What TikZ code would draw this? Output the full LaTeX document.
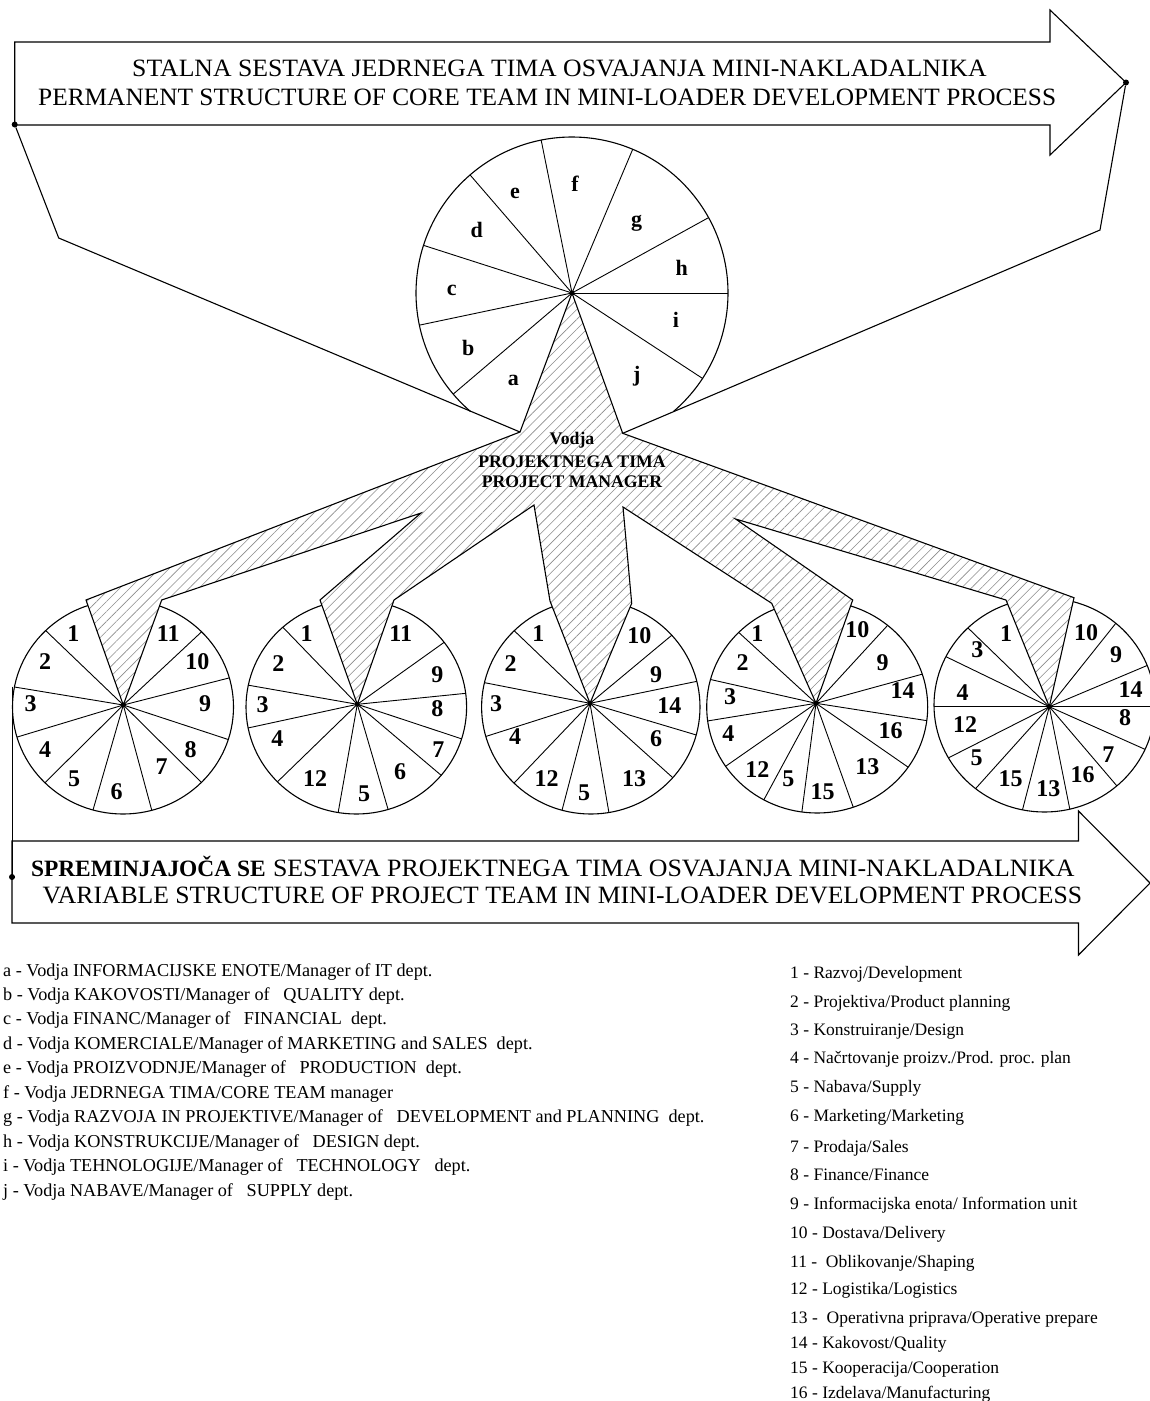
\documentclass[tikz,border=0pt]{standalone}
\usepackage{fontspec}
\usepackage{graphicx}
\setmainfont{Liberation Serif}
\usetikzlibrary{calc,patterns.meta}
\begin{document}
\begin{tikzpicture}[x=1pt,y=-1pt,
  outline/.style={line width=1.1pt, line join=miter},
  spoke/.style={line width=0.9pt},
  hub/.style={circle, fill=black, inner sep=0pt, minimum size=5pt},
  enddot/.style={circle, fill=black, inner sep=0pt, minimum size=6pt},
  seglabel/.style={font=\fontsize{24}{24}\selectfont\bfseries, inner sep=0pt},
  corelabel/.style={font=\fontsize{22}{22}\selectfont\bfseries, inner sep=0pt},
  pmtext/.style={font=\fontsize{17.7}{18}\selectfont\bfseries, inner sep=0pt},
  legend/.style={font=\fontsize{17.5}{18}\selectfont, anchor=base west, inner sep=0pt},
  legendL/.style={legend, font=\fontsize{18.2}{19}\selectfont},
  hatch/.style={pattern={Lines[angle=45,distance=7pt,line width=0.6pt]}, pattern color=black!45},
]
\useasboundingbox (0,0) rectangle (1150,1401);

% ---------- top arrow: permanent core team ----------
\draw[outline] (14.7,42) -- (1050,42) -- (1050,10) -- (1126,82.5) -- (1050,155) -- (1050,125) -- (14.7,125) -- cycle;
\node[anchor=base west, inner sep=0pt] (toptitle1) at (132,76.5)
  {\resizebox{854.5pt}{16.5pt}{\fontsize{22}{22}\selectfont STALNA SESTAVA JEDRNEGA TIMA OSVAJANJA MINI-NAKLADALNIKA}};
\node[anchor=base west, inner sep=0pt] (toptitle2) at (38,105)
  {\resizebox{1018pt}{16.5pt}{\fontsize{22}{22}\selectfont PERMANENT STRUCTURE OF CORE TEAM IN MINI-LOADER DEVELOPMENT PROCESS}};
\node[enddot] (topL) at (14.7,124.5) {};
\node[enddot] (topR) at (1126,82.5) {};

% ---------- core team circle ----------
\coordinate (C0) at (572,293);
\draw[outline] ($(C0)+(-49.5:156pt)$) arc[start angle=-49.5, end angle=229.5, radius=156pt];
\foreach \a in {101.4,67.1,28.9,0,-33.2,130.8,162.2,191.9,220.4}
  \draw[spoke] (C0) -- ++(\a:156pt);

% ---------- project team circles ----------
\coordinate (O1) at (123.3,705);
\coordinate (O2) at (357.3,704.3);
\coordinate (O3) at (590,703.3);
\coordinate (O4) at (816,703.3);
\coordinate (O5) at (1049.3,706.7);

\begin{scope}
  \clip (123,707) ellipse [x radius=110.5pt, y radius=107pt];
  \foreach \x/\y in {43.3/628.3,12.7/686.7,18.3/736.7,46.7/781,93.3/809,151.7/810,200/781,226.7/739,230/677.7,201.7/631.7}
    \draw[spoke] (O1) -- ($(O1)!1.3!(\x,\y)$);
\end{scope}
\draw[outline] (123,707) ellipse [x radius=110.5pt, y radius=107pt];

\begin{scope}
  \clip (356.3,707) ellipse [x radius=110.3pt, y radius=107pt];
  \foreach \x/\y in {280.7/625,247.3/685,249.3/727.7,279.3/780,338.3/811.7,387.3/806.7,440/774.3,460/738.3,466/693.3,445/641.7}
    \draw[spoke] (O2) -- ($(O2)!1.3!(\x,\y)$);
\end{scope}
\draw[outline] (356.3,707) ellipse [x radius=110.3pt, y radius=107pt];

\begin{scope}
  \clip (590.8,707) ellipse [x radius=109.2pt, y radius=107pt];
  \foreach \x/\y in {511.7/628.3,482.7/682.3,485/736.7,516/781,562.7/807.7,608.3/809,671.7/776.7,694/734.3,695/681.7,670/636.7}
    \draw[spoke] (O3) -- ($(O3)!1.3!(\x,\y)$);
\end{scope}
\draw[outline] (590.8,707) ellipse [x radius=109.2pt, y radius=107pt];

\begin{scope}
  \clip (817.2,707) ellipse [x radius=110.5pt, y radius=106pt];
  \foreach \x/\y in {735/629,708.3/679,707.3/721,725/766.7,765/797.7,801.7/813.3,852.7/805.7,904/764.3,922.7/720,921.7/674.3,887.3/625.7}
    \draw[spoke] (O4) -- ($(O4)!1.3!(\x,\y)$);
\end{scope}
\draw[outline] (817.2,707) ellipse [x radius=110.5pt, y radius=106pt];

\begin{scope}
  \clip (1044.5,705) ellipse [x radius=110.5pt, y radius=107pt];
  \foreach \x/\y in {966.7/626.7,946/656.7,934/706.7,950.7/756.7,977.3/786.7,1022.7/809,1069.3/806.7,1113.3/781.7,1142.7/748.3,1150/706.7,1148.3/665,1115/624.3}
    \draw[spoke] (O5) -- ($(O5)!1.3!(\x,\y)$);
\end{scope}
\draw[outline] (1044.5,705) ellipse [x radius=110.5pt, y radius=107pt];

% ---------- connectors from the top arrow to the project manager ----------
\coordinate (V1) at (520,432);
\coordinate (V2) at (622.7,433.3);
\coordinate (lbend) at (58.7,238);
\coordinate (rbend) at (1100,230);
\draw[outline] (topL) -- (lbend) -- (V1);
\draw[outline] (topR) -- (rbend) -- (V2);

% ---------- project manager star with its branches ----------
\draw[outline, preaction={fill=white}, hatch]
  (C0) -- (V1) -- (86,600) -- (O1) -- (161.7,600) -- (421,513)
  -- (320,600) -- (O2) -- (394,600) -- (534,505)
  -- (550,601) -- (O3) -- (631.7,603.3) -- (623,507)
  -- (771.7,603.3) -- (O4) -- (852.7,600) -- (735.6,519)
  -- (1006,600) -- (O5) -- (1074,597.7) -- (V2) -- cycle;

\node[pmtext] (pm1) at (572,440) {Vodja};
\node[pmtext] (pm2) at (572,461.7) {PROJEKTNEGA TIMA};
\node[pmtext] (pm3) at (572,481.7) {PROJECT MANAGER};

% hubs
\foreach \c in {C0,O1,O2,O3,O4,O5}
  \node[hub] at (\c) {};

% ---------- core team labels ----------
\node[corelabel] (la) at (513.3,380) {a};
\node[corelabel] (lb) at (468.3,348.3) {b};
\node[corelabel] (lc) at (451.7,290) {c};
\node[corelabel] (ld) at (476.7,230) {d};
\node[corelabel] (le) at (515,193.3) {e};
\node[corelabel] (lf) at (575,183.3) {f};
\node[corelabel] (lg) at (636.7,223.3) {g};
\node[corelabel] (lh) at (681.7,268.3) {h};
\node[corelabel] (li) at (676,320) {i};
\node[corelabel] (lj) at (636.7,376.7) {j};

% ---------- project team labels ----------
\foreach \t/\x/\y in {1/73.3/633.3,2/45/661.7,3/30.7/703.3,4/45/750,5/74/778.3,6/116.7/791.7,7/161.7/766.7,8/190.7/750,9/205/703.3,10/197.3/661.7,11/168.3/633.3}
  \node[seglabel] at (\x,\y) {\t};
\foreach \t/\x/\y in {1/306.7/633.3,2/278.3/663.3,3/262.7/704.3,4/277.3/739,12/315/778.3,5/364/793.3,6/400/771.7,7/438.3/750,8/437.3/709,9/437.3/674.3,11/400.7/633.3}
  \node[seglabel] at (\x,\y) {\t};
\foreach \t/\x/\y in {1/538.3/633.3,2/510.7/663.3,3/496/703.3,4/515/736.7,12/546.7/779,5/584/792.3,13/634/779,6/656/739,14/669.3/705.7,9/656/674.3,10/639.3/635.7}
  \node[seglabel] at (\x,\y) {\t};
\foreach \t/\x/\y in {1/757.3/633.3,2/742.7/662.3,3/730/696.7,4/728.3/733.3,12/757.3/770,5/788.3/778.3,15/822.7/791.7,13/867.3/766.7,16/890.7/731,14/902.7/691,9/882.7/662.3,10/857.3/630}
  \node[seglabel] at (\x,\y) {\t};
\foreach \t/\x/\y in {1/1006/633.3,3/977.3/650,4/962.7/692.3,12/965/725,5/976.7/757.7,15/1010.7/778.3,13/1048.3/789,16/1082.7/774.3,7/1108.3/754.3,8/1125/717.7,14/1130.7/690,9/1116/655,10/1086/632.3}
  \node[seglabel] at (\x,\y) {\t};

% ---------- bottom arrow: variable project team ----------
\draw[outline] (12,841) -- (1078.5,841) -- (1078.5,811) -- (1150,883) -- (1078.5,955) -- (1078.5,923) -- (12,923) -- cycle;
\node[enddot] (botL) at (12,877) {};
\coordinate (c1w) at (12.7,686.7);
\draw[outline] (c1w) -- (c1w |- botL) -- (botL);
\node[anchor=base west, inner sep=0pt] (bottitle1a) at (30.8,876.5)
  {\resizebox{234.7pt}{!}{\fontsize{23}{23}\selectfont\bfseries SPREMINJAJOČA SE}};
\node[anchor=base west, inner sep=0pt] (bottitle1b) at (272.8,876.5)
  {\resizebox{801.7pt}{16.5pt}{\fontsize{22}{22}\selectfont SESTAVA PROJEKTNEGA TIMA OSVAJANJA MINI-NAKLADALNIKA}};
\node[anchor=base west, inner sep=0pt] (bottitle2) at (42.5,903.3)
  {\resizebox{1039.3pt}{16.5pt}{\fontsize{22}{22}\selectfont VARIABLE STRUCTURE OF PROJECT TEAM IN MINI-LOADER DEVELOPMENT PROCESS}};

% ---------- legend of the core team ----------
\node[legendL] (ka) at (3,976.5) {a - Vodja INFORMACIJSKE ENOTE/Manager of IT dept.};
\node[legendL] (kb) at (3,1000.5) {b - Vodja KAKOVOSTI/Manager of\ \ \ QUALITY dept.};
\node[legendL] (kc) at (3,1024.8) {c - Vodja FINANC/Manager of\ \ \ FINANCIAL\ \ dept.};
\node[legendL] (kd) at (3,1049.5) {d - Vodja KOMERCIALE/Manager of MARKETING and SALES\ \ dept.};
\node[legendL] (ke) at (3,1073.8) {e - Vodja PROIZVODNJE/Manager of\ \ \ PRODUCTION\ \ dept.};
\node[legendL] (kf) at (3,1098.2) {f - Vodja JEDRNEGA TIMA/CORE TEAM manager};
\node[legendL] (kg) at (3,1122.8) {g - Vodja RAZVOJA IN PROJEKTIVE/Manager of\ \ \ DEVELOPMENT and PLANNING\ \ dept.};
\node[legendL] (kh) at (3,1147.2) {h - Vodja KONSTRUKCIJE/Manager of\ \ \ DESIGN dept.};
\node[legendL] (ki) at (3,1171.5) {i - Vodja TEHNOLOGIJE/Manager of\ \ \ TECHNOLOGY\ \ \ dept.};
\node[legendL] (kj) at (3,1196.2) {j - Vodja NABAVE/Manager of\ \ \ SUPPLY dept.};

% ---------- legend of the project team ----------
\node[legend] (n1) at (790,978.5) {1 - Razvoj/Development};
\node[legend] (n2) at (790,1007) {2 - Projektiva/Product planning};
\node[legend] (n3) at (790,1035.5) {3 - Konstruiranje/Design};
\node[legend] (n4) at (790,1063.8) {4 - Načrtovanje proizv./Prod. proc. plan};
\node[legend] (n5) at (790,1092.8) {5 - Nabava/Supply};
\node[legend] (n6) at (790,1121.5) {6 - Marketing/Marketing};
\node[legend] (n7) at (790,1152.2) {7 - Prodaja/Sales};
\node[legend] (n8) at (790,1180.5) {8 - Finance/Finance};
\node[legend] (n9) at (790,1209.5) {9 - Informacijska enota/ Information unit};
\node[legend] (n10) at (790,1238.2) {10 - Dostava/Delivery};
\node[legend] (n11) at (790,1267.2) {11 -\ \ Oblikovanje/Shaping};
\node[legend] (n12) at (790,1294.8) {12 - Logistika/Logistics};
\node[legend] (n13) at (790,1323.8) {13 -\ \ Operativna priprava/Operative prepare};
\node[legend] (n14) at (790,1348.8) {14 - Kakovost/Quality};
\node[legend] (n15) at (790,1373.8) {15 - Kooperacija/Cooperation};
\node[legend] (n16) at (790,1398.2) {16 - Izdelava/Manufacturing};
\end{tikzpicture}
\end{document}
